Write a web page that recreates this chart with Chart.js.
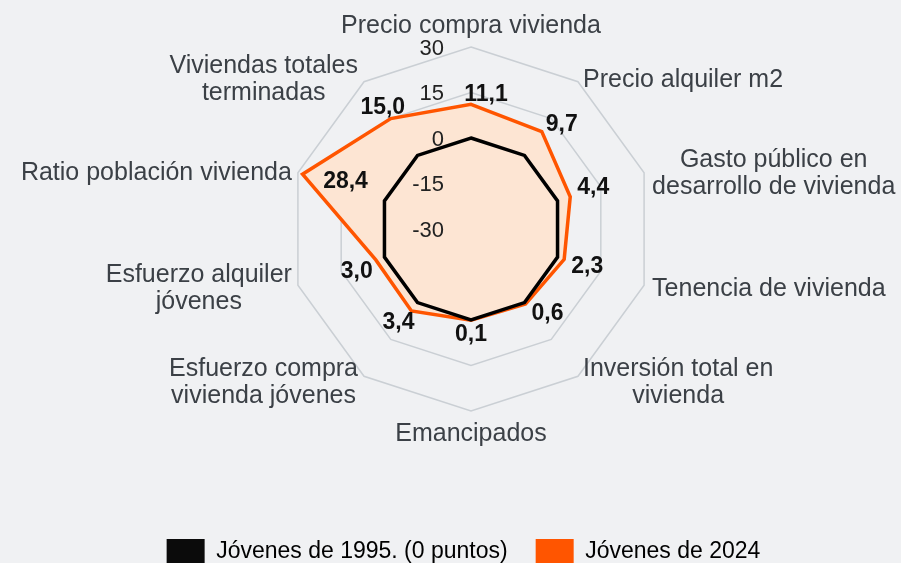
<!DOCTYPE html>
<html>
<head>
<meta charset="utf-8">
<script src="https://cdn.jsdelivr.net/npm/chart.js@4"></script>
<style>
  html, body { margin: 0; padding: 0; background: #f0f1f3; overflow: hidden; }
  canvas { display: block; }
</style>
</head>
<body>
<canvas id="grafico" width="901" height="574"></canvas>
<script>
const categorias = [
    "Precio compra vivienda",
    "Precio alquiler m2",
    ["Gasto público en", "desarrollo de vivienda"],
    "Tenencia de vivienda",
    ["Inversión total en", "vivienda"],
    "Emancipados",
    ["Esfuerzo compra", "vivienda jóvenes"],
    ["Esfuerzo alquiler", "jóvenes"],
    "Ratio población vivienda",
    ["Viviendas totales", "terminadas"]
];
const jovenes1995 = [0, 0, 0, 0, 0, 0, 0, 0, 0, 0];
const jovenes2024 = [11.1, 9.7, 4.4, 2.3, 0.6, 0.1, 3.4, 3.0, 28.4, 15.0];
const ticksEscala = [-30, -15, 0, 15, 30];

const FUENTE = "'Liberation Sans', Arial, sans-serif";

// desplazamiento de cada etiqueta de valor respecto a su punto
const offsetsEtiquetas = [[15, -10], [20, -7], [23, -9], [23, 7], [22, 10], [0, 14], [-13, 12], [-19, 12], [43, 7], [-8, -11]];

const pluginEtiquetas = {
    id: "etiquetas",
    afterDatasetsDraw(chart) {
        const ctx = chart.ctx;
        const r = chart.scales.r;
        ctx.save();

        // nombres de los ejes
        ctx.font = "25px " + FUENTE;
        ctx.fillStyle = "#3b4046";
        ctx.textAlign = "center";
        ctx.textBaseline = "alphabetic";
        const n = categorias.length;
        const altoLinea = 27;
        categorias.forEach((cat, i) => {
            const lineas = Array.isArray(cat) ? cat : [cat];
            const v = r.getPointPositionForValue(i, 30);
            const ang = i * 2 * Math.PI / n;
            const ancho = Math.max(...lineas.map(l => ctx.measureText(l).width));
            let cx, base0;
            if (i === 0) {
                cx = v.x;
                base0 = v.y - 14;
            } else if (i === n / 2) {
                cx = v.x;
                base0 = v.y + 30;
            } else {
                const lado = Math.sin(ang) > 0 ? 1 : -1;
                const sep = (i === 2 || i === 3) ? 8 : (lado > 0 ? 5 : 6);
                cx = v.x + lado * (sep + ancho / 2);
                const centroY = v.y - 5 * Math.cos(ang);
                base0 = centroY + 9 - (lineas.length - 1) * altoLinea / 2;
            }
            lineas.forEach((l, k) => ctx.fillText(l, cx, base0 + k * altoLinea));
        });

        // valores de 2024
        const meta = chart.getDatasetMeta(1);
        ctx.font = "bold 23px " + FUENTE;
        ctx.fillStyle = "#111";
        ctx.textBaseline = "middle";
        meta.data.forEach((p, i) => {
            const txt = jovenes2024[i].toFixed(1).replace(".", ",");
            const o = offsetsEtiquetas[i];
            ctx.fillText(txt, p.x + o[0], p.y + o[1]);
        });

        // ticks de la escala
        ctx.font = "22px " + FUENTE;
        ctx.fillStyle = "#222";
        ctx.textAlign = "right";
        ticksEscala.forEach(t => {
            const d = r.getDistanceFromCenterForValue(t);
            ctx.fillText(String(t), r.xCenter - 27, r.yCenter - d + 1.5);
        });
        ctx.restore();
    }
};

new Chart("grafico", {
    type: "radar",
    data: {
        labels: categorias,
        datasets: [{
            label: "Jóvenes de 1995. (0 puntos)",
            data: jovenes1995,
            borderColor: "#000",
            backgroundColor: "#0b0b0b",
            borderWidth: 3.5,
            pointRadius: 0,
            fill: false
        }, {
            label: "Jóvenes de 2024",
            data: jovenes2024,
            borderColor: "#ff5500",
            backgroundColor: "#fde5d3",
            borderWidth: 3.5,
            pointRadius: 0,
            fill: "start"
        }]
    },
    options: {
        responsive: false,
        animation: false,
        layout: { padding: { top: 47, bottom: 0, left: 26, right: 0 } },
        plugins: {
            // espaciadores invisibles
            title: {
                display: true,
                position: "left",
                text: " ",
                font: { size: 10 },
                padding: { top: 4, bottom: 0 }
            },
            subtitle: {
                display: true,
                position: "bottom",
                weight: 500,
                text: " ",
                font: { size: 10 },
                padding: { top: 0, bottom: 88 }
            },
            legend: {
                position: "bottom",
                labels: {
                    boxWidth: 38,
                    boxHeight: 25,
                    padding: 28,
                    color: "#222",
                    font: { size: 23, family: FUENTE },
                    generateLabels(chart) {
                        return chart.data.datasets.map((ds, i) => ({
                            text: ds.label,
                            fillStyle: i === 0 ? "#0b0b0b" : "#ff5500",
                            strokeStyle: "transparent",
                            lineWidth: 0,
                            datasetIndex: i
                        }));
                    }
                }
            },
            tooltip: { enabled: false }
        },
        scales: {
            r: {
                min: -30,
                max: 30,
                ticks: { display: false, stepSize: 15 },
                grid: { color: "#cacfd4", lineWidth: 1.5 },
                angleLines: { display: false },
                pointLabels: { display: false }
            }
        }
    },
    plugins: [pluginEtiquetas]
});
</script>
</body>
</html>
